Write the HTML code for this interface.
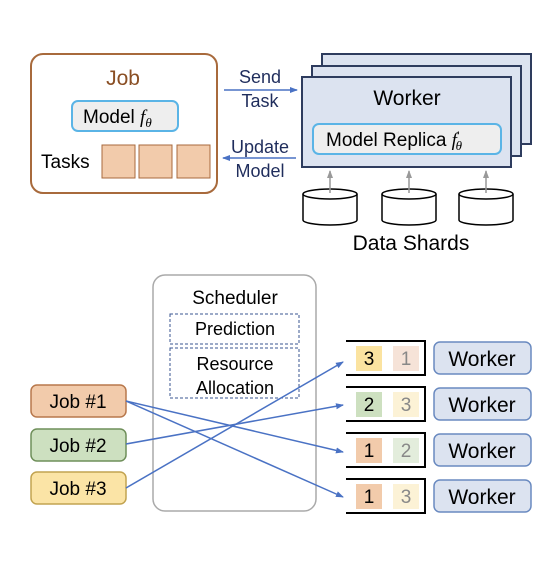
<!DOCTYPE html>
<html><head><meta charset="utf-8"><style>
html,body{margin:0;padding:0;background:#fff;}
svg{display:block;font-family:"Liberation Sans",Arial,sans-serif;}
</style></head><body>
<svg width="558" height="567" viewBox="0 0 558 567" xmlns="http://www.w3.org/2000/svg">
<defs>
<marker id="ab" markerWidth="8" markerHeight="8" refX="7" refY="4" orient="auto" markerUnits="userSpaceOnUse"><path d="M0,1 L8,4 L0,7 Z" fill="#4a72c4"/></marker>
<marker id="ag" markerWidth="8" markerHeight="8" refX="7" refY="4" orient="auto" markerUnits="userSpaceOnUse"><path d="M0,1 L8,4 L0,7 Z" fill="#999"/></marker>
</defs>
<!-- Job box -->
<rect x="31" y="54" width="186" height="139" rx="12" fill="#fff" stroke="#a86a3c" stroke-width="2"/>
<text x="123" y="85" font-size="21" fill="#8a4f24" text-anchor="middle">Job</text>
<rect x="72" y="101" width="106" height="30" rx="6" fill="#eeeeee" stroke="#5ab4e6" stroke-width="2"/>
<text x="83" y="123" font-size="19">Model <tspan font-family="Liberation Serif" font-style="italic">f</tspan><tspan font-family="Liberation Serif" font-style="italic" font-size="13" dy="4">θ</tspan></text>
<text x="41" y="168" font-size="19">Tasks</text>
<rect x="102" y="145" width="33" height="33" fill="#f2cbab" stroke="#a86a3c"/>
<rect x="139" y="145" width="33" height="33" fill="#f2cbab" stroke="#a86a3c"/>
<rect x="177" y="145" width="33" height="33" fill="#f2cbab" stroke="#a86a3c"/>
<!-- arrows -->
<text x="260" y="83" font-size="18" fill="#1f2d5c" text-anchor="middle">Send</text>
<text x="260" y="107" font-size="18" fill="#1f2d5c" text-anchor="middle">Task</text>
<line x1="224" y1="90" x2="297" y2="90" stroke="#4a72c4" stroke-width="1.5" marker-end="url(#ab)"/>
<text x="260" y="153" font-size="18" fill="#1f2d5c" text-anchor="middle">Update</text>
<text x="260" y="177" font-size="18" fill="#1f2d5c" text-anchor="middle">Model</text>
<line x1="296" y1="158" x2="223" y2="158" stroke="#4a72c4" stroke-width="1.5" marker-end="url(#ab)"/>
<!-- workers -->
<rect x="322" y="54" width="209" height="90" fill="#dce3f0" stroke="#2e3c5e" stroke-width="2"/>
<rect x="312" y="66" width="209" height="90" fill="#dce3f0" stroke="#2e3c5e" stroke-width="2"/>
<rect x="302" y="77" width="209" height="90" fill="#dce3f0" stroke="#2e3c5e" stroke-width="2"/>
<text x="407" y="105" font-size="21" text-anchor="middle">Worker</text>
<rect x="313" y="124" width="188" height="30" rx="6" fill="#eeeeee" stroke="#5ab4e6" stroke-width="2"/>
<text x="326" y="146" font-size="19">Model Replica <tspan font-family="Liberation Serif" font-style="italic">f</tspan><tspan font-family="Liberation Serif" font-size="12" dy="-7">′</tspan><tspan font-family="Liberation Serif" font-style="italic" font-size="13" dx="-4" dy="11">θ</tspan></text>
<!-- cylinders -->
<g fill="#fff" stroke="#000" stroke-width="1.5">
<path d="M303,194 v26 a27,5 0 0 0 54,0 v-26"/><ellipse cx="330" cy="194" rx="27" ry="5"/>
<path d="M382,194 v26 a27,5 0 0 0 54,0 v-26"/><ellipse cx="409" cy="194" rx="27" ry="5"/>
<path d="M459,194 v26 a27,5 0 0 0 54,0 v-26"/><ellipse cx="486" cy="194" rx="27" ry="5"/>
</g>
<g stroke="#999" stroke-width="1.5">
<line x1="330" y1="193" x2="330" y2="171" marker-end="url(#ag)"/>
<line x1="409" y1="193" x2="409" y2="171" marker-end="url(#ag)"/>
<line x1="486" y1="193" x2="486" y2="171" marker-end="url(#ag)"/>
</g>
<text x="411" y="250" font-size="21" text-anchor="middle">Data Shards</text>
<!-- scheduler -->
<rect x="153" y="275" width="163" height="236" rx="12" fill="#fff" stroke="#aaa" stroke-width="1.5"/>
<text x="235" y="304" font-size="19" text-anchor="middle">Scheduler</text>
<rect x="170" y="314" width="129" height="30" fill="none" stroke="#3a5590" stroke-dasharray="3,2"/>
<text x="235" y="335" font-size="18" text-anchor="middle">Prediction</text>
<rect x="170" y="348" width="129" height="50" fill="none" stroke="#3a5590" stroke-dasharray="3,2"/>
<text x="235" y="370" font-size="18" text-anchor="middle">Resource</text>
<text x="235" y="394" font-size="18" text-anchor="middle">Allocation</text>
<!-- jobs -->
<rect x="31" y="385" width="95" height="32" rx="6" fill="#f2cbab" stroke="#b8784c" stroke-width="1.5"/>
<text x="78" y="408" font-size="19" text-anchor="middle">Job #1</text>
<rect x="31" y="429" width="95" height="32" rx="6" fill="#cde0c0" stroke="#6f8f5a" stroke-width="1.5"/>
<text x="78" y="452" font-size="19" text-anchor="middle">Job #2</text>
<rect x="31" y="472" width="95" height="32" rx="6" fill="#fbe4a6" stroke="#c2a350" stroke-width="1.5"/>
<text x="78" y="495" font-size="19" text-anchor="middle">Job #3</text>
<!-- slots -->
<g fill="none" stroke="#000" stroke-width="2">
<path d="M346,341 H425 V375 H346"/>
<path d="M346,387 H425 V421 H346"/>
<path d="M346,433 H425 V467 H346"/>
<path d="M346,479 H425 V513 H346"/>
</g>
<g font-size="19" text-anchor="middle">
<rect x="356" y="346" width="26" height="25" fill="#fbe3a0"/><text x="369" y="365">3</text>
<rect x="393" y="346" width="26" height="25" fill="#f6e3d8"/><text x="406" y="365" fill="#888">1</text>
<rect x="356" y="392" width="26" height="25" fill="#cde0c0"/><text x="369" y="411">2</text>
<rect x="393" y="392" width="26" height="25" fill="#fcf2d6"/><text x="406" y="411" fill="#888">3</text>
<rect x="356" y="438" width="26" height="25" fill="#f2cbab"/><text x="369" y="457">1</text>
<rect x="393" y="438" width="26" height="25" fill="#e3eddc"/><text x="406" y="457" fill="#888">2</text>
<rect x="356" y="484" width="26" height="25" fill="#f2cbab"/><text x="369" y="503">1</text>
<rect x="393" y="484" width="26" height="25" fill="#fcf2d6"/><text x="406" y="503" fill="#888">3</text>
</g>
<!-- workers -->
<g fill="#dce3f0" stroke="#6a8ac0" stroke-width="1.5">
<rect x="434" y="342" width="97" height="32" rx="6"/>
<rect x="434" y="388" width="97" height="32" rx="6"/>
<rect x="434" y="434" width="97" height="32" rx="6"/>
<rect x="434" y="480" width="97" height="32" rx="6"/>
</g>
<g font-size="21" text-anchor="middle">
<text x="482" y="366">Worker</text>
<text x="482" y="412">Worker</text>
<text x="482" y="458">Worker</text>
<text x="482" y="504">Worker</text>
</g>
<!-- connectors -->
<g stroke="#4a72c4" stroke-width="1.5" fill="none">
<line x1="126" y1="401" x2="343" y2="452" marker-end="url(#ab)"/>
<line x1="126" y1="401" x2="343" y2="497" marker-end="url(#ab)"/>
<line x1="126" y1="444" x2="343" y2="405" marker-end="url(#ab)"/>
<line x1="126" y1="488" x2="343" y2="362" marker-end="url(#ab)"/>
</g>
</svg>
</body></html>
